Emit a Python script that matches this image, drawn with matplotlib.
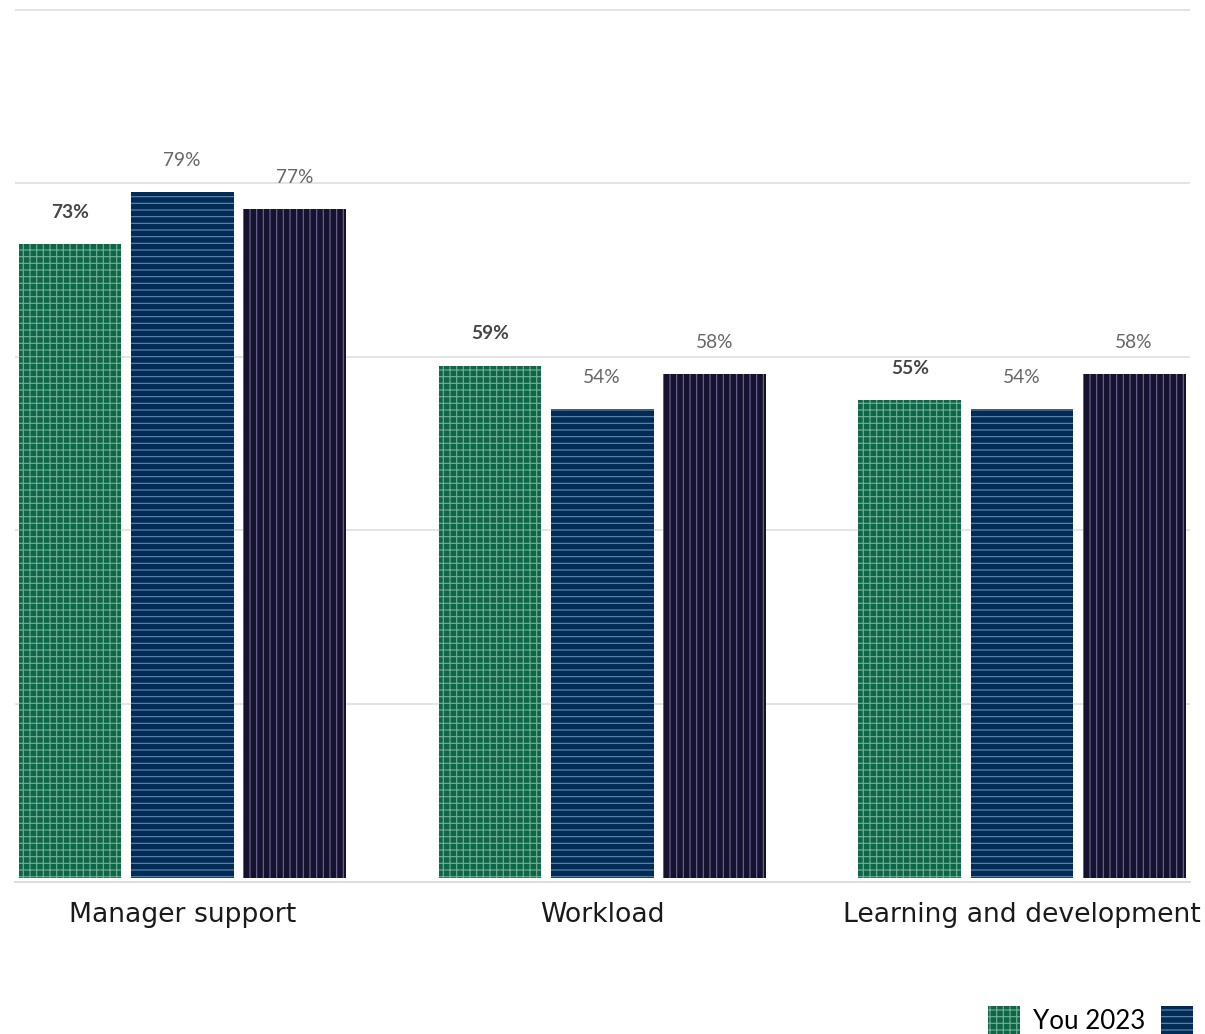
import matplotlib
matplotlib.use("Agg")
import matplotlib.pyplot as plt
import numpy as np

categories = ["Manager support", "Workload", "Learning and development"]
series_names = ["You 2023", "Comparator 2023", "Public sector 2023"]
you_2023 = [73, 59, 55]
comparator_2023 = [79, 54, 54]
public_sector_2023 = [77, 58, 58]

values = [you_2023, comparator_2023, public_sector_2023]
face_colors = ["#0d6647", "#022b56", "#15122f"]
hatch_colors = ["#6fae93", "#5f86b0", "#6c6590"]
hatches = ["+++", "---", "|||"]
label_weights = ["bold", "normal", "normal"]
label_colors = ["#454545", "#666666", "#666666"]

plt.rcParams["font.family"] = ["Lato", "DejaVu Sans"]
plt.rcParams["hatch.linewidth"] = 0.7

dpi = 120
fig = plt.figure(figsize=(1205 / dpi, 1034 / dpi), dpi=dpi)
ax = fig.add_axes([15 / 1205, 1 - 882 / 1034, 1175 / 1205, 875 / 1034])

x = np.arange(len(categories))
step = 0.267
width = 0.245
offsets = [-step, 0, step]

for i in range(3):
    bars = ax.bar(x + offsets[i], values[i], width=width, color=face_colors[i],
                  edgecolor=hatch_colors[i], linewidth=0, hatch=hatches[i],
                  label=series_names[i], zorder=2)
    for b, v in zip(bars, values[i]):
        ax.annotate(f"{v}%", (b.get_x() + b.get_width() / 2, b.get_height()),
                    xytext=(0, 19), textcoords="offset points", ha="center",
                    va="center", fontsize=11.5, fontweight=label_weights[i],
                    color=label_colors[i], zorder=3)

ax.set_xlim(-0.398, 2.4)
ax.set_ylim(-0.5, 100.3)
ax.set_yticks([20, 40, 60, 80, 100])
ax.set_yticklabels([])
ax.tick_params(axis="y", length=0)
ax.grid(axis="y", color="#e2e2e2", linewidth=1.1, zorder=0)
ax.set_axisbelow(True)
ax.set_xticks(x)
ax.set_xticklabels(categories, fontsize=16, color="#1a1a1a", family="DejaVu Sans")
ax.tick_params(axis="x", length=0, pad=12)
for s in ["top", "left", "right"]:
    ax.spines[s].set_visible(False)
ax.spines["bottom"].set_color("#dcdcdc")
ax.spines["bottom"].set_linewidth(1.1)

fig.legend(loc="upper left", bbox_to_anchor=(988 / 1205, 1 - 1006 / 1034),
           ncol=3, frameon=False, fontsize=15.5, handlelength=1.25,
           handleheight=1.3, handletextpad=0.5, columnspacing=0.6,
           borderpad=0, borderaxespad=0)

fig.savefig("out.png", dpi=dpi)
